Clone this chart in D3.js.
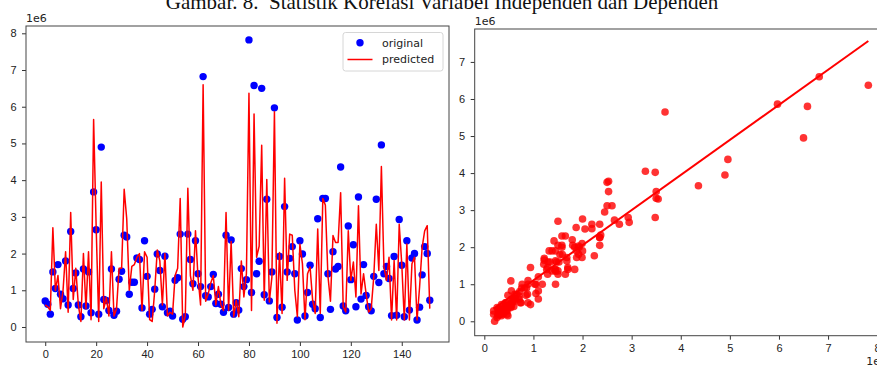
<!DOCTYPE html>
<html>
<head>
<meta charset="utf-8">
<script src="https://cdn.jsdelivr.net/npm/d3@7"></script>
<style>
  html, body { margin: 0; padding: 0; background: #fff; }
  svg { display: block; font-family: "DejaVu Sans", sans-serif; }
  .tick text { font-size: 11px; fill: #222; }
  .tick line { stroke: #333; }
  .caption { font-family: "Liberation Serif", "Times New Roman", serif; font-size: 21px; fill: #111; white-space: pre; }
  .offset { font-size: 11px; fill: #222; }
  .legend-label { font-size: 11px; fill: #222; }
</style>
</head>
<body>
<div id="chart"></div>
<script>
(function () {

    var CAPTION = "Gambar. 8.  Statistik Korelasi Variabel Independen dan Dependen";

    /* original target values (units of 1e6), index 0..151 */
    var ORIGINAL = [
        0.71, 0.62, 0.35, 1.50, 1.05, 1.70, 0.89, 0.77, 1.80, 0.60,
        2.60, 1.05, 1.47, 0.60, 0.28, 1.58, 0.57, 1.50, 0.39, 3.68,
        2.65, 0.35, 4.90, 0.75, 0.72, 0.45, 1.58, 0.32, 0.43, 1.30,
        1.52, 2.50, 2.45, 0.89, 1.22, 1.22, 1.88, 1.84, 0.52, 2.35,
        1.38, 0.35, 0.48, 1.03, 1.99, 1.54, 0.55, 1.93, 0.39, 0.43,
        0.30, 1.27, 1.34, 2.53, 0.21, 0.28, 2.53, 1.84, 1.18, 2.35,
        1.45, 1.10, 6.82, 0.85, 0.82, 1.10, 1.43, 0.64, 0.89, 0.62,
        0.40, 2.50, 0.53, 2.37, 0.35, 0.66, 0.46, 1.59, 1.10, 1.29,
        7.82, 0.94, 6.58, 1.45, 1.79, 6.50, 0.88, 3.48, 0.71, 1.50,
        5.97, 0.26, 1.92, 0.54, 3.28, 1.50, 1.87, 2.19, 1.45, 0.19,
        2.35, 1.99, 0.30, 0.94, 1.68, 0.62, 0.50, 2.95, 0.26, 3.50,
        3.50, 1.45, 0.48, 2.05, 1.58, 1.65, 4.36, 0.57, 0.44, 2.75,
        1.29, 2.24, 0.55, 3.54, 0.76, 1.70, 0.86, 0.55, 0.44, 1.38,
        3.48, 1.21, 4.96, 1.45, 1.65, 1.32, 0.31, 1.92, 0.32, 2.93,
        1.68, 0.28, 2.35, 0.46, 1.88, 2.00, 0.19, 0.54, 1.42, 2.19,
        2.00, 0.73
    ];

    /* model predictions (units of 1e6), same index */
    var PREDICTED = [
        0.60, 0.55, 0.45, 2.70, 1.00, 1.40, 0.50, 1.00, 2.05, 0.40,
        3.12, 0.75, 1.60, 0.60, 0.15, 2.00, 0.50, 2.05, 0.20, 5.65,
        2.73, 0.15, 3.95, 0.50, 0.80, 0.30, 2.05, 0.30, 0.50, 1.60,
        1.60, 3.75, 2.95, 1.00, 1.65, 1.70, 1.90, 2.00, 0.45, 2.05,
        1.90, 0.20, 0.15, 1.00, 2.10, 1.80, 0.60, 2.00, 0.30, 0.40,
        0.35, 1.40, 1.60, 3.50, 0.00, 0.30, 3.78, 1.40, 1.00, 2.62,
        1.35, 0.60, 6.60, 0.70, 0.90, 1.20, 1.40, 0.60, 1.10, 0.60,
        0.45, 3.12, 0.45, 2.33, 0.28, 0.73, 0.28, 1.80, 0.82, 1.45,
        6.37, 0.45, 5.80, 1.90, 2.20, 4.95, 0.73, 4.02, 0.68, 1.36,
        5.86, 0.10, 2.03, 0.37, 4.05, 1.27, 2.53, 2.50, 1.00, 0.28,
        2.26, 1.72, 0.20, 1.45, 1.63, 0.73, 0.37, 2.67, 0.37, 3.50,
        3.32, 1.40, 0.70, 2.49, 2.30, 2.30, 3.66, 0.55, 0.41, 2.62,
        1.27, 1.77, 0.82, 3.30, 0.90, 1.45, 0.90, 0.41, 0.50, 1.36,
        2.80, 1.54, 4.37, 1.63, 1.27, 1.90, 0.19, 1.81, 0.19, 2.80,
        1.72, 0.19, 2.26, 0.19, 1.72, 1.90, 0.19, 1.09, 2.17, 2.62,
        2.76, 0.50
    ];

    /* fitted line: predicted = a + b * original */
    var FIT_INTERCEPT = 0.16;
    var FIT_SLOPE = 0.947;

    var LEFT_X_TICKS  = [0, 20, 40, 60, 80, 100, 120, 140];
    var LEFT_Y_TICKS  = [0, 1, 2, 3, 4, 5, 6, 7, 8];
    var RIGHT_X_TICKS = [0, 1, 2, 3, 4, 5, 6, 7, 8];
    var RIGHT_Y_TICKS = [0, 1, 2, 3, 4, 5, 6, 7];

    var LEGEND = ["original", "predicted"];

    var W = 877, H = 367;
    var BLUE = "#0000ff", RED = "#ff0000";

    var svg = d3.select("#chart").append("svg")
        .attr("width", W).attr("height", H);

    /* caption, clipped at the top like the source */
    svg.append("text")
        .attr("class", "caption")
        .attr("x", 442).attr("y", 9)
        .attr("text-anchor", "middle")
        .text(CAPTION);

    function frame(g, w, h) {
        g.append("rect")
            .attr("width", w).attr("height", h)
            .attr("fill", "none")
            .attr("stroke", "#444")
            .attr("stroke-width", 1);
    }

    function styleAxis(sel) {
        sel.select(".domain").remove();
        sel.selectAll(".tick line").attr("stroke", "#333");
    }

    /* ---------- left panel: original vs predicted by index ---------- */
    var L = { x: 26, y: 26, w: 423, h: 316 };
    var gl = svg.append("g").attr("transform", "translate(" + L.x + "," + L.y + ")");

    var xl = d3.scaleLinear().domain([-7.55, 158.55]).range([0, L.w]);
    var yl = d3.scaleLinear().domain([-0.409, 8.199]).range([L.h, 0]);

    gl.append("g")
        .attr("transform", "translate(0," + L.h + ")")
        .call(d3.axisBottom(xl).tickValues(LEFT_X_TICKS).tickSize(4).tickPadding(4))
        .call(styleAxis);
    gl.append("g")
        .call(d3.axisLeft(yl).tickValues(LEFT_Y_TICKS).tickSize(4).tickPadding(5.5))
        .call(styleAxis);

    gl.append("g").selectAll("circle")
        .data(ORIGINAL)
        .enter().append("circle")
        .attr("cx", function (d, i) { return xl(i); })
        .attr("cy", function (d) { return yl(d); })
        .attr("r", 3.7)
        .attr("fill", BLUE);

    var lineL = d3.line()
        .x(function (d, i) { return xl(i); })
        .y(function (d) { return yl(d); });

    gl.append("path")
        .datum(PREDICTED)
        .attr("d", lineL)
        .attr("fill", "none")
        .attr("stroke", RED)
        .attr("stroke-width", 1.5)
        .attr("stroke-linejoin", "round");

    frame(gl, L.w, L.h);

    svg.append("text").attr("class", "offset")
        .attr("x", L.x).attr("y", L.y - 4)
        .text("1e6");

    /* legend */
    var lg = gl.append("g").attr("transform", "translate(" + (343 - L.x) + "," + (32.5 - L.y) + ")");
    lg.append("rect")
        .attr("width", 100).attr("height", 38.5)
        .attr("rx", 2.5)
        .attr("fill", "#fff").attr("fill-opacity", 0.8)
        .attr("stroke", "#d6d6d6");
    lg.append("circle")
        .attr("cx", 17).attr("cy", 10.3).attr("r", 3.7)
        .attr("fill", BLUE);
    lg.append("line")
        .attr("x1", 4.5).attr("x2", 29.5)
        .attr("y1", 27).attr("y2", 27)
        .attr("stroke", RED).attr("stroke-width", 1.5);
    lg.selectAll(".legend-label")
        .data(LEGEND)
        .enter().append("text")
        .attr("class", "legend-label")
        .attr("x", 39)
        .attr("y", function (d, i) { return 14.3 + i * 16.5; })
        .text(function (d) { return d; });

    /* ---------- right panel: predicted vs original ---------- */
    var R = { x: 474.7, y: 29, w: 412.3, h: 306.7 };
    var gr = svg.append("g").attr("transform", "translate(" + R.x + "," + R.y + ")");

    var xr = d3.scaleLinear().domain([-0.196, 8.2]).range([0, R.w]);
    var yr = d3.scaleLinear().domain([-0.389, 7.889]).range([R.h, 0]);

    gr.append("g")
        .attr("transform", "translate(0," + R.h + ")")
        .call(d3.axisBottom(xr).tickValues(RIGHT_X_TICKS).tickSize(4).tickPadding(5))
        .call(styleAxis);
    gr.append("g")
        .call(d3.axisLeft(yr).tickValues(RIGHT_Y_TICKS).tickSize(4).tickPadding(5.5))
        .call(styleAxis);

    gr.append("g").selectAll("circle")
        .data(ORIGINAL)
        .enter().append("circle")
        .attr("cx", function (d) { return xr(d); })
        .attr("cy", function (d, i) { return yr(PREDICTED[i]); })
        .attr("r", 3.8)
        .attr("fill", RED)
        .attr("fill-opacity", 0.8);

    var xExt = d3.extent(ORIGINAL);
    gr.append("line")
        .attr("x1", xr(xExt[0])).attr("y1", yr(FIT_INTERCEPT + FIT_SLOPE * xExt[0]))
        .attr("x2", xr(xExt[1])).attr("y2", yr(FIT_INTERCEPT + FIT_SLOPE * xExt[1]))
        .attr("stroke", RED)
        .attr("stroke-width", 2);

    frame(gr, R.w, R.h);

    svg.append("text").attr("class", "offset")
        .attr("x", R.x).attr("y", R.y - 4)
        .text("1e6");
    svg.append("text").attr("class", "offset")
        .attr("x", R.x + R.w).attr("y", 365)
        .attr("text-anchor", "end")
        .text("1e6");

}());
</script>
</body>
</html>
